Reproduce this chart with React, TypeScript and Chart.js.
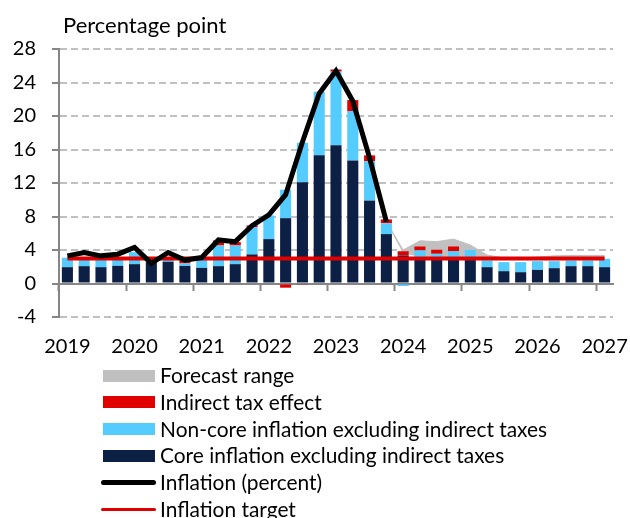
import React, { useEffect, useRef } from "react";
import { Chart, registerables } from "chart.js";

Chart.register(...registerables);

const categories = [
  "2019Q1", "2019Q2", "2019Q3", "2019Q4",
  "2020Q1", "2020Q2", "2020Q3", "2020Q4",
  "2021Q1", "2021Q2", "2021Q3", "2021Q4",
  "2022Q1", "2022Q2", "2022Q3", "2022Q4",
  "2023Q1", "2023Q2", "2023Q3", "2023Q4",
  "2024Q1", "2024Q2", "2024Q3", "2024Q4",
  "2025Q1", "2025Q2", "2025Q3", "2025Q4",
  "2026Q1", "2026Q2", "2026Q3", "2026Q4",
  "2027Q1",
];

const xTickLabels = ["2019", "2020", "2021", "2022", "2023", "2024", "2025", "2026", "2027"];

const core = [
  1.95, 2.07, 1.95, 2.11, 2.31, 2.55, 2.6, 2.1,
  1.87, 2.07, 2.31, 3.47, 5.3, 7.8, 12.1, 15.3,
  16.5, 14.7, 9.9, 5.9, 3.35, 3.0, 3.0, 3.0,
  2.8, 1.95, 1.47, 1.35, 1.63, 1.83, 2.07, 2.07,
  1.95,
];

const nonCore = [
  1.12, 0.93, 1.05, 1.0, 1.44, 0.2, 0.4, 0.3,
  0.95, 2.47, 2.23, 3.26, 2.83, 3.4, 4.7, 7.6,
  8.8, 5.9, 4.7, 1.3, -0.3, 0.95, 0.55, 0.86,
  1.22, 0.8, 1.08, 1.2, 1.04, 0.84, 0.68, 0.68,
  1.0,
];

const indirectTax = [
  null, null, null, null, null, null, null, 0.3,
  null, 0.6, 0.4, 0.2, null, -0.5, -0.15, null,
  0.25, 1.3, 0.7, 0.45, 0.5, 0.47, 0.48, 0.56,
  null, null, null, null, null, null, null, null,
  null,
];

const inflation = [
  3.3, 3.7, 3.3, 3.5, 4.3, 2.4, 3.7, 2.8,
  3.1, 5.2, 5.0, 6.9, 8.2, 10.6, 16.9, 22.7,
  25.4, 21.8, 15.0, 7.4, null, null, null, null,
  null, null, null, null, null, null, null, null,
  null,
];

const inflationTarget = [
  3, 3, 3, 3, 3, 3, 3, 3,
  3, 3, 3, 3, 3, 3, 3, 3,
  3, 3, 3, 3, 3, 3, 3, 3,
  3, 3, 3, 3, 3, 3, 3, 3,
  3,
];

const rangeLower = [
  null, null, null, null, null, null, null, null,
  null, null, null, null, null, null, null, null,
  null, null, null, 7.4, 3.7, 3.2, 3.1, 3.2,
  3.1, 2.9, 2.9, 2.9, 2.9, 2.9, 2.9, 2.9,
  2.9,
];

const rangeUpper = [
  null, null, null, null, null, null, null, null,
  null, null, null, null, null, null, null, null,
  null, null, null, 7.4, 4.0, 5.1, 5.0, 5.3,
  4.6, 3.4, 3.05, 3.05, 3.15, 3.3, 3.35, 3.35,
  3.35,
];

const NAVY = "#0C1F45";
const LIGHT = "#55CCFF";
const RED = "#E00000";
const GRAY = "#C0C0C0";
const AXIS = "#868686";
const GRID = "#C0C0C0";

const CANVAS_W = 630;
const CANVAS_H = 365;

const legendItems = [
  { label: "Forecast range", kind: "box", color: GRAY, width: 12 },
  { label: "Indirect tax effect", kind: "box", color: RED, width: 12 },
  { label: "Non-core inflation excluding indirect taxes", kind: "box", color: LIGHT, width: 12 },
  { label: "Core inflation excluding indirect taxes", kind: "box", color: NAVY, width: 12 },
  { label: "Inflation (percent)", kind: "line", color: "#000000", width: 5 },
  { label: "Inflation target", kind: "line", color: RED, width: 3 },
];

export default function App() {
  const ref = useRef<HTMLCanvasElement>(null);

  useEffect(() => {
    const canvas = ref.current;
    if (!canvas) return;
    const chart = new Chart(canvas, {
      type: "bar",
      data: {
        labels: categories,
        datasets: [
          {
            type: "bar",
            label: "Core inflation excluding indirect taxes",
            data: core,
            backgroundColor: NAVY,
            borderWidth: 0,
            stack: "bars",
            order: 3,
            barPercentage: 0.66,
            categoryPercentage: 1,
          },
          {
            type: "bar",
            label: "Non-core inflation excluding indirect taxes",
            data: nonCore,
            backgroundColor: LIGHT,
            borderWidth: 0,
            stack: "bars",
            order: 3,
            barPercentage: 0.66,
            categoryPercentage: 1,
          },
          {
            type: "bar",
            label: "Indirect tax effect",
            data: indirectTax,
            backgroundColor: RED,
            borderWidth: 0,
            stack: "bars",
            order: 3,
            barPercentage: 0.66,
            categoryPercentage: 1,
          },
          {
            type: "line",
            label: "Forecast range (lower)",
            data: rangeLower,
            borderColor: GRAY,
            borderWidth: 1,
            pointRadius: 0,
            fill: false,
            stack: "lo",
            order: 5,
          },
          {
            type: "line",
            label: "Forecast range",
            data: rangeUpper,
            borderColor: GRAY,
            backgroundColor: GRAY,
            borderWidth: 1,
            pointRadius: 0,
            fill: "-1",
            stack: "hi",
            order: 4,
          },
          {
            type: "line",
            label: "Inflation target",
            data: inflationTarget,
            borderColor: RED,
            borderWidth: 4,
            pointRadius: 0,
            fill: false,
            stack: "target",
            order: 1,
          },
          {
            type: "line",
            label: "Inflation (percent)",
            data: inflation,
            borderColor: "#000000",
            borderWidth: 5,
            pointRadius: 0,
            fill: false,
            stack: "infl",
            order: 0,
            borderJoinStyle: "miter",
          },
        ],
      },
      options: {
        responsive: false,
        animation: false,
        layout: { padding: { top: 49, right: 17, left: 0, bottom: 0 } },
        plugins: {
          legend: { display: false },
          tooltip: { enabled: false },
          title: { display: false },
        },
        scales: {
          x: {
            type: "category",
            stacked: true,
            offset: true,
            position: "bottom",
            grid: { display: false, drawTicks: true, tickLength: 18, offset: true },
            border: { display: false },
            ticks: {
              autoSkip: false,
              maxRotation: 0,
              minRotation: 0,
              padding: 0,
              color: "#000000",
              font: { family: "Lato", size: 20 },
              callback: (_v: any, i: number) => (i % 4 === 0 ? xTickLabels[i / 4] : ""),
            },
            afterFit: (s: any) => {
              s.height = CANVAS_H - 317;
            },
          },
          x2: {
            type: "category",
            display: true,
            offset: true,
            position: { y: 0 },
            grid: {
              offset: true,
              drawOnChartArea: false,
              drawTicks: true,
              tickLength: 6,
              tickWidth: 2,
              tickColor: (ctx: any) => (ctx.index % 4 === 0 ? AXIS : "rgba(0,0,0,0)"),
            },
            border: { display: true, color: AXIS, width: 2 },
            ticks: { display: false },
          },
          y: {
            type: "linear",
            stacked: true,
            position: "left",
            min: -4,
            max: 28,
            ticks: {
              stepSize: 4,
              padding: 16,
              color: "#000000",
              font: { family: "Lato", size: 20 },
            },
            grid: {
              color: (ctx: any) => (ctx.tick && ctx.tick.value === 0 ? "rgba(0,0,0,0)" : GRID),
              lineWidth: 2,
              drawTicks: true,
              tickLength: 7,
              tickWidth: 2,
              tickColor: AXIS,
            },
            border: { display: true, color: AXIS, width: 2, dash: [7, 4] },
            afterFit: (s: any) => {
              s.width = 59;
            },
          },
        },
      },
    } as any);
    return () => chart.destroy();
  }, []);

  const rowH = 26.7;
  const firstCenter = 375.5;
  const legendFont = 20.9;

  return (
    <div
      style={{
        position: "absolute",
        left: 0,
        top: 0,
        width: 630,
        height: 518,
        overflow: "hidden",
        background: "#ffffff",
        fontFamily: "Lato",
        color: "#000000",
      }}
    >
      <canvas
        ref={ref}
        width={CANVAS_W}
        height={CANVAS_H}
        style={{ position: "absolute", left: 0, top: 0, width: CANVAS_W, height: CANVAS_H, display: "block" }}
      />
      <div
        style={{
          position: "absolute",
          left: 63,
          top: 12,
          fontSize: 22,
          lineHeight: 1.2,
          whiteSpace: "nowrap",
        }}
      >
        Percentage point
      </div>
      {legendItems.map((it, i) => {
        const cy = firstCenter + rowH * i;
        return (
          <React.Fragment key={it.label}>
            {it.kind === "box" ? (
              <div
                style={{
                  position: "absolute",
                  left: 103,
                  top: cy - 6,
                  width: 52,
                  height: 12,
                  background: it.color,
                }}
              />
            ) : (
              <div
                style={{
                  position: "absolute",
                  left: 101,
                  top: cy - it.width / 2,
                  width: 55,
                  height: it.width,
                  background: it.color,
                  borderRadius: it.width / 2,
                }}
              />
            )}
            <div
              style={{
                position: "absolute",
                left: 160,
                top: cy - legendFont * 0.64,
                fontSize: legendFont,
                lineHeight: 1.2,
                whiteSpace: "nowrap",
              }}
            >
              {it.label}
            </div>
          </React.Fragment>
        );
      })}
    </div>
  );
}
